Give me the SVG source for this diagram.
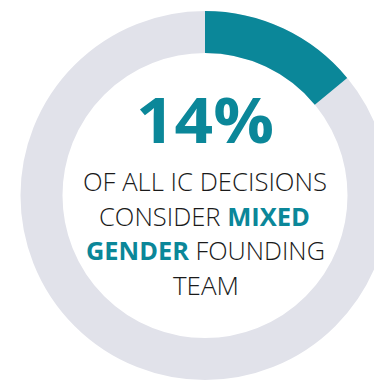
<svg xmlns="http://www.w3.org/2000/svg" width="374" height="381" viewBox="0 0 374 381">
<style>
.t{font-family:"Open Sans","Liberation Sans",sans-serif;font-weight:300;font-size:25px;fill:#1a1a1a;text-anchor:middle}
.b{font-weight:700;fill:#0b8799}
</style>
<rect width="374" height="381" fill="#ffffff"/>
<g id="ring">
<circle cx="205" cy="195.5" r="163.5" fill="none" stroke="#e1e2ea" stroke-width="42"/>
<path d="M205 11 A184.5 184.5 0 0 1 347.16 77.9 L314.8 104.67 A142.5 142.5 0 0 0 205 53 Z" fill="#0b8799"/>
</g>
<g id="label">
<text x="205" y="143" font-family="Open Sans, Liberation Sans, sans-serif" font-weight="700" font-size="63" fill="#0b8799" text-anchor="middle" textLength="138" lengthAdjust="spacingAndGlyphs">14%</text>
<text class="t" x="205" y="191" textLength="244" lengthAdjust="spacingAndGlyphs">OF ALL IC DECISIONS</text>
<text class="t" x="204.5" y="225.5" textLength="211" lengthAdjust="spacingAndGlyphs">CONSIDER <tspan class="b">MIXED</tspan></text>
<text class="t" x="205.5" y="259.5" textLength="239" lengthAdjust="spacingAndGlyphs"><tspan class="b">GENDER</tspan> FOUNDING</text>
<text class="t" x="206" y="294.5" textLength="66" lengthAdjust="spacingAndGlyphs">TEAM</text>
</g>
</svg>
